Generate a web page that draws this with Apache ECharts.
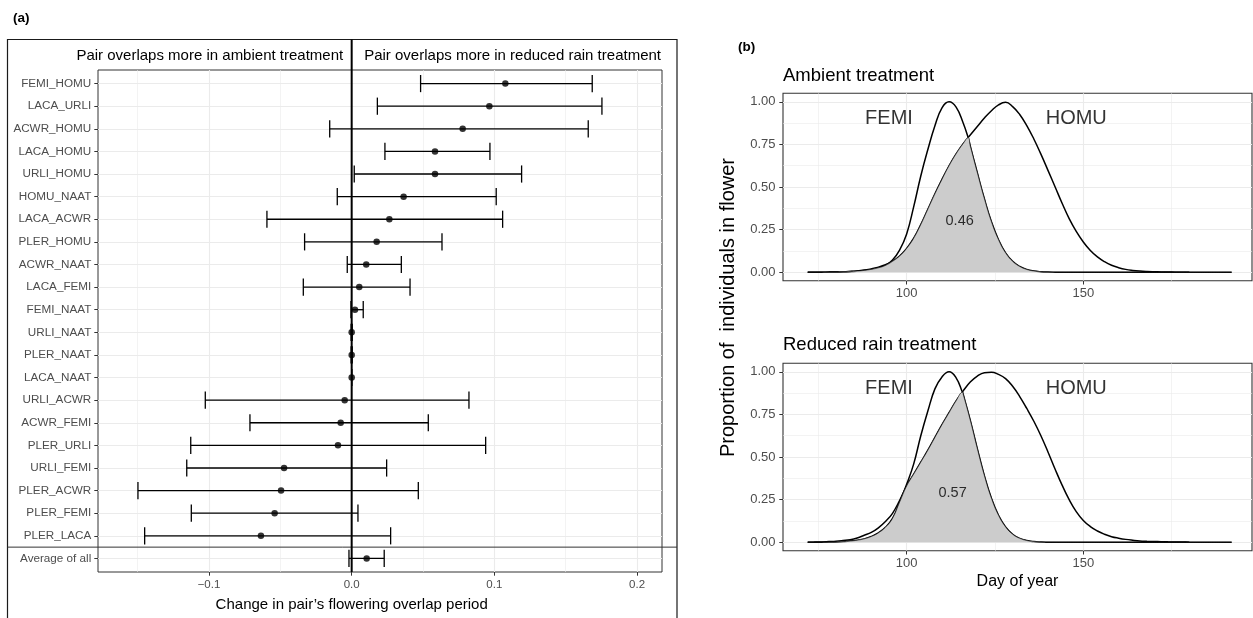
<!DOCTYPE html>
<html><head><meta charset="utf-8">
<script src="https://cdn.jsdelivr.net/npm/echarts@6/dist/echarts.min.js"></script>
<style>html,body{margin:0;padding:0;background:#fff}#c{width:1253px;height:618px}</style>
</head><body><div id="c"></div>
<script>
const FONT = '"Liberation Sans", Arimo, Helvetica, Arial, sans-serif';

// ---------- Panel (a): change in overlap ----------
const pairLabels = ['FEMI_HOMU','LACA_URLI','ACWR_HOMU','LACA_HOMU','URLI_HOMU','HOMU_NAAT','LACA_ACWR','PLER_HOMU','ACWR_NAAT','LACA_FEMI','FEMI_NAAT','URLI_NAAT','PLER_NAAT','LACA_NAAT','URLI_ACWR','ACWR_FEMI','PLER_URLI','URLI_FEMI','PLER_ACWR','PLER_FEMI','PLER_LACA','Average of all'];
const pairMean = [0.1077, 0.0965, 0.0778, 0.0584, 0.0584, 0.0364, 0.0264, 0.0175, 0.0102, 0.0053, 0.0023, 0, 0, 0, -0.0049, -0.0077, -0.0096, -0.0474, -0.0495, -0.054, -0.0636, 0.0105];
const pairLow  = [0.0483, 0.018, -0.0154, 0.0233, 0.0018, -0.0101, -0.0594, -0.033, -0.0031, -0.0339, -0.0005, -0.0004, -0.0004, 0, -0.1026, -0.0713, -0.1128, -0.1156, -0.1498, -0.1124, -0.1451, -0.0019];
const pairHigh = [0.1686, 0.1754, 0.1658, 0.0969, 0.1191, 0.1013, 0.1058, 0.0633, 0.0348, 0.0409, 0.0081, 0.0004, 0.0004, 0, 0.0822, 0.0537, 0.0939, 0.0245, 0.0467, 0.0044, 0.0273, 0.0228];
const changeTicks = [-0.1, 0, 0.1, 0.2];
const changeMinorTicks = [-0.15, -0.05, 0.05, 0.15];

// ---------- Panel (b): flowering curves (proportion of individuals in flower) ----------
const ambientDays = [72,74,76,78,80,82,84,86,88,90,92,94,96,98,100,102,104,106,108,110,112,114,116,117.4,118,120,122,124,126,128,130,132,134,136,138,140,142,144,146,148,150,152,154,156,158,160,162,164,166,168,170,172,174,176,178,180,182,184,186,188,190,192];
const ambientFEMI = [0, 0.0002, 0.0005, 0.001, 0.0015, 0.0025, 0.004, 0.007, 0.011, 0.017,
  0.026, 0.040, 0.072, 0.13, 0.225,
  0.385, 0.565, 0.72, 0.86, 0.965,
  1.0, 0.969, 0.876,
  0.79,
  0.741, 0.584, 0.431, 0.296, 0.191, 0.114, 0.064, 0.034, 0.0164, 0.0075, 0.0032, 0.0013, 0.0005, 0.0002,
  0, 0, 0, 0, 0, 0, 0, 0, 0, 0, 0, 0, 0, 0, 0, 0, 0, 0,
  null, null, null, null, null, null];
const ambientHOMU = [0, 0.0002, 0.0005, 0.001, 0.002, 0.003, 0.005, 0.008, 0.013, 0.02,
  0.03, 0.044, 0.064, 0.095, 0.14,
  0.2, 0.28, 0.37, 0.46, 0.545,
  0.625, 0.695, 0.755,
  0.79,
  0.805, 0.855, 0.905, 0.948, 0.982, 0.997, 0.972, 0.926, 0.861, 0.782, 0.693, 0.598, 0.502, 0.405,
  0.315, 0.24, 0.178, 0.128, 0.09, 0.062, 0.041, 0.027, 0.017, 0.011, 0.007, 0.0045, 0.003, 0.002, 0.0013, 0.0008, 0.0005, 0.0003,
  0.0002, 0.0001, 0.0001, 0, 0, 0];

const reducedDays = [72,74,76,78,80,82,84,86,88,90,92,94,96,98,100,102,104,106,108,110,112,114,115.8,116,118,120,122,124,126,128,130,132,134,136,138,140,142,144,146,148,150,152,154,156,158,160,162,164,166,168,170,172,174,176,178,180,182,184,186,188,190,192];
const reducedFEMI = [0, 0.0002, 0.0005, 0.001, 0.002, 0.004, 0.007, 0.012, 0.02, 0.034,
  0.055, 0.088, 0.14, 0.235, 0.34,
  0.46, 0.625, 0.77, 0.9, 0.97,
  1.0, 0.965,
  0.88,
  0.868, 0.716, 0.549, 0.391, 0.258, 0.158, 0.09, 0.047, 0.023, 0.0103, 0.0043, 0.0016, 0.0006, 0.0002, 0,
  0, 0, 0, 0, 0, 0, 0, 0, 0, 0, 0, 0, 0, 0, 0, 0, 0, 0,
  null, null, null, null, null, null];
const reducedHOMU = [0, 0.001, 0.002, 0.004, 0.006, 0.01, 0.015, 0.025, 0.041, 0.058,
  0.085, 0.122, 0.17, 0.245, 0.33,
  0.40, 0.47, 0.54, 0.615, 0.69,
  0.76, 0.83,
  0.88,
  0.888, 0.94, 0.975, 0.995, 0.998, 0.985, 0.96, 0.915, 0.855, 0.785, 0.71, 0.625, 0.53, 0.43, 0.335,
  0.25, 0.18, 0.128, 0.092, 0.066, 0.047, 0.033, 0.024, 0.017, 0.012, 0.008, 0.006, 0.0045, 0.0035, 0.0025, 0.0018, 0.0012, 0.0008,
  0.0005, 0.0003, 0.0002, 0.0001, 0, 0];

const ambientLabelText = ['FEMI', 'HOMU', '0.46'];
const ambientLabelDay = [95, 148, 115];
const ambientLabelValue = [0.9, 0.9, 0.3];
const reducedLabelText = ['FEMI', 'HOMU', '0.57'];
const reducedLabelDay = [95, 148, 113];
const reducedLabelValue = [0.9, 0.9, 0.29];

const dayTicks = [100, 150];
const dayMinorTicks = [75, 125, 175];
const propTicks = [0, 0.25, 0.5, 0.75, 1];
const propMinorTicks = [0.125, 0.375, 0.625, 0.875];

// ---------- helpers ----------
const LABEL_COLOR = '#4d4d4d';
const GRID_COLOR = '#ebebeb';
function pairs(days, vals) {
  const out = [];
  days.forEach((d, i) => { if (vals[i] !== null) out.push([d, vals[i]]); });
  return out;
}
function overlap(days, a, b) {
  return days.map((d, i) => [d, Math.min(a[i] === null ? 0 : a[i], b[i] === null ? 0 : b[i])]);
}
function mainAxis(gridIndex, min, max, ticks, fmt, fontSize, margin, extra) {
  return Object.assign({
    gridIndex, type: 'value', min, max,
    axisLine: { show: false, onZero: false },
    axisTick: { show: true, length: 3.7, customValues: ticks, lineStyle: { color: '#333', width: 1 } },
    axisLabel: { customValues: ticks, formatter: fmt, color: LABEL_COLOR, fontSize, fontFamily: FONT, margin },
    splitLine: { show: true, lineStyle: { color: GRID_COLOR, width: 1.1 } }
  }, extra || {});
}
function minorAxis(gridIndex, min, max, ticks, extra) {
  return Object.assign({
    gridIndex, type: 'value', min, max,
    axisLine: { show: false, onZero: false },
    axisTick: { show: false, customValues: ticks },
    axisLabel: { show: false, customValues: ticks },
    splitLine: { show: true, lineStyle: { color: GRID_COLOR, width: 0.6 } }
  }, extra || {});
}
function renderErr(params, api) {
  const yi = api.value(0), lo = api.value(1), hi = api.value(2);
  const a = api.coord([lo, yi]), b = api.coord([hi, yi]);
  const h = Math.abs(api.size([0, 1])[1]) * 0.38;
  const st = { stroke: '#000', lineWidth: 1.3 };
  return { type: 'group', children: [
    { type: 'line', shape: { x1: a[0], y1: a[1], x2: b[0], y2: b[1] }, style: st },
    { type: 'line', shape: { x1: a[0], y1: a[1] - h, x2: a[0], y2: a[1] + h }, style: st },
    { type: 'line', shape: { x1: b[0], y1: b[1] - h, x2: b[0], y2: b[1] + h }, style: st }
  ]};
}
const SMOOTH = 0.45;
function curveSeries(xi, yi, data) {
  return { type: 'line', xAxisIndex: xi, yAxisIndex: yi, data, showSymbol: false, symbol: 'none',
    smooth: SMOOTH, lineStyle: { color: '#000', width: 1.5 }, z: 2, silent: true };
}
function overlapSeries(xi, yi, data) {
  return { type: 'line', xAxisIndex: xi, yAxisIndex: yi, data, showSymbol: false, symbol: 'none',
    smooth: SMOOTH, lineStyle: { color: '#1a1a1a', width: 0.6 },
    areaStyle: { color: '#cccccc', opacity: 1, origin: 0 }, z: 3, silent: true };
}
function labelSeries(xi, yi, texts, xs, ys) {
  return { type: 'scatter', xAxisIndex: xi, yAxisIndex: yi, symbolSize: 0, z: 5, silent: true,
    data: texts.map((t, i) => ({ name: t, value: [xs[i], ys[i]],
      label: { show: true, position: 'inside', formatter: '{b}', color: '#000', fontFamily: FONT,
        fontSize: /^[0-9.]+$/.test(t) ? 14.5 : 20 } })) };
}

const idx = pairLabels.map((_, i) => i);
const fmtChange = v => v === 0 ? '0.0' : (v < 0 ? '\u2212' : '') + Math.abs(v).toFixed(1);
const fmtProp = v => v.toFixed(2);
const LX = [-0.1778, 0.2175];
const DX = [65, 197.75];
const PY = [-0.05, 1.05];

const chart = echarts.init(document.getElementById('c'), null, { renderer: 'canvas' });
chart.setOption({
  animation: false,
  backgroundColor: '#fff',
  grid: [
    { left: 98, top: 70, width: 564, height: 502, show: true, borderColor: '#333', borderWidth: 1, backgroundColor: 'transparent' },
    { left: 783, top: 93.3, width: 469, height: 187.5, show: true, borderColor: '#333', borderWidth: 1.1, backgroundColor: 'transparent' },
    { left: 783, top: 363.3, width: 469, height: 187.5, show: true, borderColor: '#333', borderWidth: 1.1, backgroundColor: 'transparent' }
  ],
  xAxis: [
    mainAxis(0, LX[0], LX[1], changeTicks, fmtChange, 11.5, 6.5),
    minorAxis(0, LX[0], LX[1], changeMinorTicks),
    mainAxis(1, DX[0], DX[1], dayTicks, v => String(v), 13, 6),
    minorAxis(1, DX[0], DX[1], dayMinorTicks),
    mainAxis(2, DX[0], DX[1], dayTicks, v => String(v), 13, 6),
    minorAxis(2, DX[0], DX[1], dayMinorTicks)
  ],
  yAxis: [
    mainAxis(0, -0.6, 21.6, idx, v => pairLabels[Math.round(v)], 11.7, 6.7, { inverse: true }),
    mainAxis(1, PY[0], PY[1], propTicks, fmtProp, 13, 7.5),
    minorAxis(1, PY[0], PY[1], propMinorTicks),
    mainAxis(2, PY[0], PY[1], propTicks, fmtProp, 13, 7.5),
    minorAxis(2, PY[0], PY[1], propMinorTicks)
  ],
  series: [
    { type: 'custom', xAxisIndex: 0, yAxisIndex: 0, renderItem: renderErr, silent: true, z: 3,
      encode: { x: [1, 2], y: 0 },
      data: idx.map(i => [i, pairLow[i], pairHigh[i]]) },
    { type: 'scatter', xAxisIndex: 0, yAxisIndex: 0, symbolSize: 6.5, silent: true, z: 4,
      itemStyle: { color: '#000' }, data: idx.map(i => [pairMean[i], i]) },

    curveSeries(2, 1, pairs(ambientDays, ambientFEMI)),
    curveSeries(2, 1, pairs(ambientDays, ambientHOMU)),
    overlapSeries(2, 1, overlap(ambientDays, ambientFEMI, ambientHOMU)),
    labelSeries(2, 1, ambientLabelText, ambientLabelDay, ambientLabelValue),

    curveSeries(4, 3, pairs(reducedDays, reducedFEMI)),
    curveSeries(4, 3, pairs(reducedDays, reducedHOMU)),
    overlapSeries(4, 3, overlap(reducedDays, reducedFEMI, reducedHOMU)),
    labelSeries(4, 3, reducedLabelText, reducedLabelDay, reducedLabelValue)
  ]
});

// decorations positioned from the axes
const zeroX = chart.convertToPixel({ xAxisIndex: 0 }, 0);
const panelBottom = chart.convertToPixel({ yAxisIndex: 0 }, 21.6);
const sepY = chart.convertToPixel({ yAxisIndex: 0 }, 20.5);
const txt = (o) => Object.assign({ type: 'text', z: 10, silent: true }, o);
chart.setOption({
  graphic: [
    { type: 'rect', z: 1, silent: true, shape: { x: 7.5, y: 39.5, width: 669.5, height: 620 },
      style: { fill: 'none', stroke: '#1a1a1a', lineWidth: 1.2 } },
    { type: 'line', z: 1, silent: true, shape: { x1: 7.5, y1: sepY, x2: 677, y2: sepY },
      style: { stroke: '#333', lineWidth: 1 } },
    { type: 'line', z: 1, silent: true, shape: { x1: zeroX, y1: 39.5, x2: zeroX, y2: panelBottom },
      style: { stroke: '#000', lineWidth: 2 } },
    txt({ x: 13, y: 18, style: { text: '(a)', font: 'bold 13.5px ' + FONT, fill: '#000', align: 'left', verticalAlign: 'middle' } }),
    txt({ x: 738, y: 47, style: { text: '(b)', font: 'bold 13.5px ' + FONT, fill: '#000', align: 'left', verticalAlign: 'middle' } }),
    txt({ x: zeroX - 8.5, y: 56, style: { text: 'Pair overlaps more in ambient treatment', font: '15px ' + FONT, fill: '#000', align: 'right', verticalAlign: 'middle' } }),
    txt({ x: zeroX + 12.5, y: 56, style: { text: 'Pair overlaps more in reduced rain treatment', font: '15px ' + FONT, fill: '#000', align: 'left', verticalAlign: 'middle' } }),
    txt({ x: zeroX, y: 604.5, style: { text: 'Change in pair\u2019s flowering overlap period', font: '15px ' + FONT, fill: '#000', align: 'center', verticalAlign: 'middle' } }),
    txt({ x: 783, y: 75.5, style: { text: 'Ambient treatment', font: '18.5px ' + FONT, fill: '#000', align: 'left', verticalAlign: 'middle' } }),
    txt({ x: 783, y: 345, style: { text: 'Reduced rain treatment', font: '18.5px ' + FONT, fill: '#000', align: 'left', verticalAlign: 'middle' } }),
    txt({ x: 1017.5, y: 582, style: { text: 'Day of year', font: '16px ' + FONT, fill: '#000', align: 'center', verticalAlign: 'middle' } }),
    txt({ x: 728, y: 307.5, rotation: Math.PI / 2, style: { text: 'Proportion of  individuals in flower', font: '20px ' + FONT, fill: '#000', align: 'center', verticalAlign: 'middle' } })
  ]
});
</script>
</body></html>
